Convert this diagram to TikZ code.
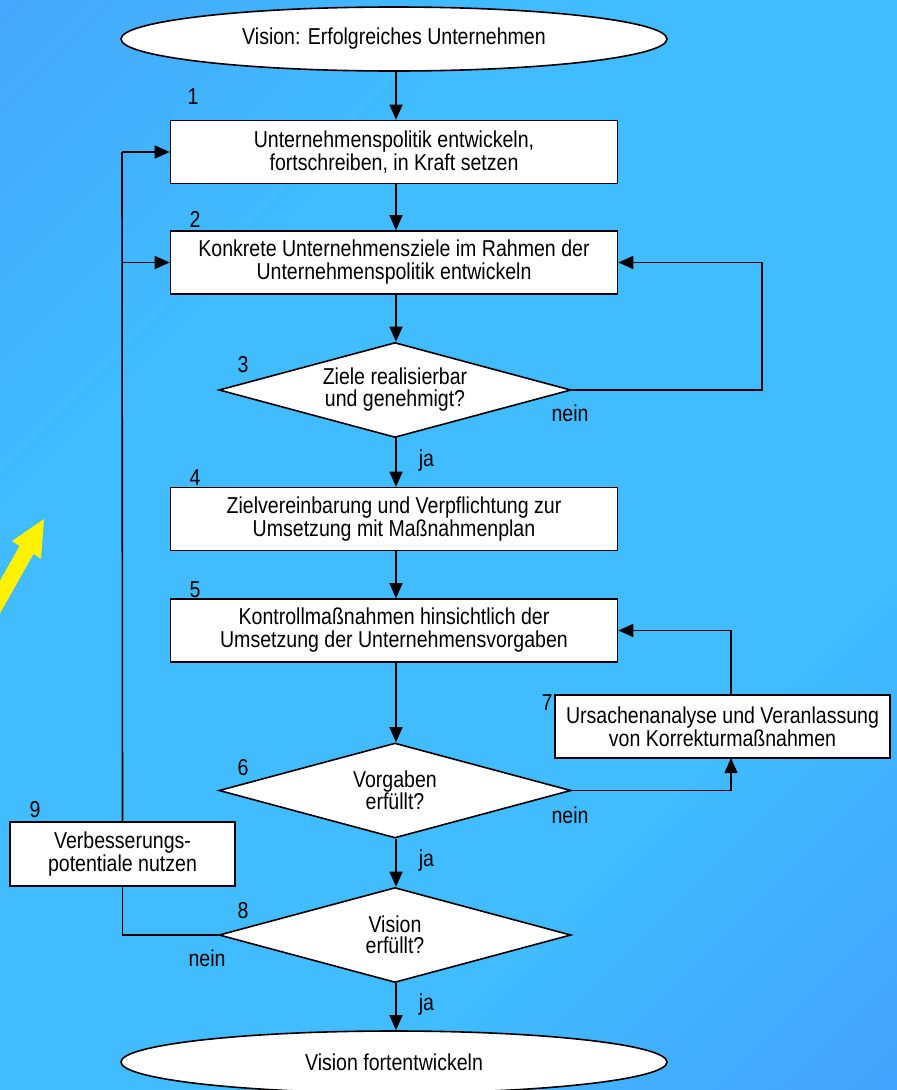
\documentclass[tikz,border=0pt]{standalone}
\usepackage{fontspec}
\setmainfont{Liberation Sans}[FakeStretch=0.85]
\usetikzlibrary{shapes.geometric,arrows.meta}
\definecolor{bgdark}{RGB}{74,150,248}
\definecolor{bgdarkb}{RGB}{72,142,250}
\definecolor{bglight}{RGB}{64,188,255}
\pgfdeclareverticalshading{bgsh}{100bp}{color(0bp)=(bgdarkb); color(33bp)=(bglight); color(67bp)=(bglight); color(100bp)=(bgdark)}
\begin{document}
\begin{tikzpicture}[x=1pt,y=-1pt,
  txt/.style={font=\fontsize{23}{23}\selectfont},
  box/.style={draw, fill=white, line width=1.6pt, minimum width=447pt, minimum height=63pt, align=center, inner sep=0pt, txt},
  ell/.style={ellipse, draw, fill=white, line width=1.6pt, minimum width=546pt, minimum height=64pt, inner sep=0pt, txt},
  dia/.style={diamond, draw, fill=white, line width=1.6pt, minimum width=352pt, minimum height=95pt, inner sep=0pt, aspect=3.7, align=center},
  lbl/.style={txt, inner sep=0pt},
  arr/.style={-{Triangle[length=15pt,width=13pt]}, line width=1.6pt},
  ln/.style={line width=1.6pt}]
\useasboundingbox (0,0) rectangle (897,1090);
\shade[shading=bgsh, shading angle=45] (0,0) rectangle (897,1090);
% yellow arrow
\fill[yellow] (44,519) -- (41,559) -- (33.5,553.9) -- (-5.7,623.5) -- (-19.7,615.7) -- (19.5,546.1) -- (12,541) -- cycle;
% nodes
\node[ell] (e1) at (394,39) {Vision: Erfolgreiches Unternehmen};
\node[box] (b1) at (394,152) {Unternehmenspolitik entwickeln,\\fortschreiben, in Kraft setzen};
\node[box] (b2) at (394,262.5) {Konkrete Unternehmensziele im Rahmen der\\Unternehmenspolitik entwickeln};
\node[dia, font=\fontsize{23}{22}\selectfont] (d3) at (395,390) {Ziele realisierbar\\und genehmigt?};
\node[box] (b4) at (394,519) {Zielvereinbarung und Verpflichtung zur\\Umsetzung mit Maßnahmenplan};
\node[box] (b5) at (394,630.5) {Kontrollmaßnahmen hinsichtlich der\\Umsetzung der Unternehmensvorgaben};
\node[dia, font=\fontsize{23}{21}\selectfont] (d6) at (395,790.5) {Vorgaben\\erfüllt?};
\node[box, minimum width=335pt] (b7) at (722.5,726.5) {Ursachenanalyse und Veranlassung\\von Korrekturmaßnahmen};
\node[dia, font=\fontsize{23}{21}\selectfont] (d8) at (395,935) {Vision\\erfüllt?};
\node[box, minimum width=225pt, minimum height=64pt] (b9) at (122.5,854) {Verbesserungs-\\potentiale nutzen};
\node[ell, minimum height=62pt] (e2) at (394,1062) {Vision fortentwickeln};
% numbers
\node[lbl] (n1) at (193,97) {1};
\node[lbl] (n2) at (195,219) {2};
\node[lbl] (n3) at (243,365) {3};
\node[lbl] (n4) at (195,478) {4};
\node[lbl] (n5) at (195,590) {5};
\node[lbl] (n6) at (243,768) {6};
\node[lbl] (n7) at (547,703) {7};
\node[lbl] (n8) at (243,911) {8};
\node[lbl] (n9) at (35,810) {9};
% connectors
\draw[arr] (e1.south -| 396,0) -- (b1.north -| 396,0);
\draw[arr] (b1.south -| 396,0) -- (b2.north -| 396,0);
\draw[arr] (b2.south -| 396,0) -- (d3.north -| 396,0);
\draw[arr] (d3.south -| 396,0) -- node[lbl, right=22pt, pos=0.45] (ja1) {ja} (b4.north -| 396,0);
\draw[arr] (b4.south -| 396,0) -- (b5.north -| 396,0);
\draw[arr] (b5.south -| 396,0) -- (d6.north -| 396,0);
\draw[arr] (d6.south -| 396,0) -- node[lbl, right=22pt, pos=0.45] (ja2) {ja} (d8.north -| 396,0);
\draw[arr] (d8.south -| 396,0) -- node[lbl, right=22pt, pos=0.45] (ja3) {ja} (e2.north -| 396,0);
\coordinate (c3) at (762,390);
\draw[arr] (d3.east) -- (c3) |- (b2.east);
\node[lbl] (nein1) at (570,413) {nein};
\coordinate (c7t) at (731,695);
\coordinate (c7b) at (731,758);
\draw[arr] (c7t) |- (b5.east);
\draw[arr] (d6.east) -| (c7b);
\node[lbl] (nein2) at (570,815) {nein};
\draw[ln] (d8.west) -| (b9.south);
\node[lbl] (nein3) at (207,958) {nein};
\coordinate (c9a) at (122,152);
\coordinate (c9b) at (122,262.5);
\draw[ln] (b9.north) -- (c9a);
\draw[arr] (c9a) -- (b1.west);
\draw[arr] (c9b) -- (b2.west);
\end{tikzpicture}
\end{document}
